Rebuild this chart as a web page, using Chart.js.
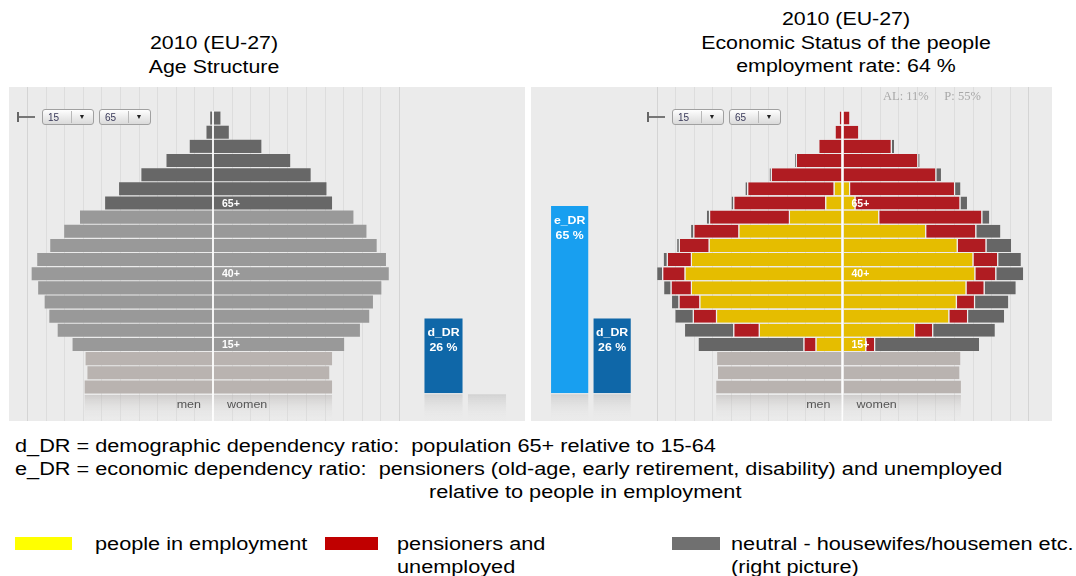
<!DOCTYPE html>
<html><head><meta charset="utf-8">
<script src="https://cdn.jsdelivr.net/npm/chart.js@4.4.1/dist/chart.umd.min.js"></script>
<style>
html,body{margin:0;padding:0;background:#fff}
body{width:1076px;height:576px;position:relative;overflow:hidden;font-family:"Liberation Sans",Arial,sans-serif;color:#000}
canvas{position:absolute}
.panel{position:absolute;background:#ebebeb}
.tx{position:absolute;white-space:nowrap;font-size:17.5px;line-height:23px;transform:scaleX(1.24);transform-origin:0 50%}
.ttl{position:absolute;text-align:center;font-size:17.5px;line-height:23.5px;white-space:nowrap;transform:scaleX(1.22);transform-origin:50% 50%}
.dd{position:absolute;width:50px;height:14px;border:1px solid #a0a0a0;border-radius:3px;background:linear-gradient(#fefefe,#dadada);font-size:10px;line-height:14px;color:#3a3a5a}
.dd .v{position:absolute;left:5px;top:1px}
.dd .sep{position:absolute;left:28px;top:1px;width:1px;height:12px;background:#b8b8b8}
.dd .ar{position:absolute;left:33px;top:0;font-size:7px;width:12px;text-align:center;color:#222}
.ico{position:absolute;width:18px;height:10px}
.ico .a{position:absolute;left:0;top:0;width:2px;height:10px;background:#666}
.ico .b{position:absolute;left:2px;top:4px;width:16px;height:1.5px;background:#777}
.sw{position:absolute;height:13px}
</style>
</head><body>

<div class="panel" style="left:9px;top:87px;width:516px;height:334px"></div>
<div class="panel" style="left:531px;top:87px;width:521px;height:334px"></div>

<div class="ttl" style="left:14px;top:32px;width:400px">2010 (EU-27)<br>Age Structure</div>
<div class="ttl" style="left:596px;top:8px;width:500px">2010 (EU-27)<br>Economic Status of the people<br>employment rate: 64 %</div>

<canvas id="leftPyr" width="516" height="334" style="left:9px;top:87px"></canvas>
<canvas id="leftDR" width="110" height="334" style="left:410px;top:87px"></canvas>
<canvas id="rightPyr" width="521" height="334" style="left:531px;top:87px"></canvas>
<canvas id="rightDR" width="120" height="334" style="left:531px;top:87px"></canvas>

<div class="ico" style="left:17px;top:112px"><div class="a"></div><div class="b"></div></div>
<div class="dd" style="left:42px;top:109px"><span class="v">15</span><span class="sep"></span><span class="ar">&#9660;</span></div>
<div class="dd" style="left:99px;top:109px"><span class="v">65</span><span class="sep"></span><span class="ar">&#9660;</span></div>
<div class="ico" style="left:647px;top:112px"><div class="a"></div><div class="b"></div></div>
<div class="dd" style="left:672px;top:109px"><span class="v">15</span><span class="sep"></span><span class="ar">&#9660;</span></div>
<div class="dd" style="left:729px;top:109px"><span class="v">65</span><span class="sep"></span><span class="ar">&#9660;</span></div>
<div class="tx" style="left:883px;top:88px;font-family:'Liberation Serif',serif;font-size:12.5px;color:#a8a8a8;line-height:16px;transform:none">AL: 11%&nbsp;&nbsp;&nbsp;&nbsp;&nbsp;P: 55%</div>

<div class="tx" style="left:15px;top:435px">d_DR = demographic dependency ratio:&nbsp; population 65+ relative to 15-64</div>
<div class="tx" style="left:15px;top:458px">e_DR = economic dependency ratio:&nbsp; pensioners (old-age, early retirement, disability) and unemployed</div>
<div class="tx" style="left:429px;top:481px">relative to people in employment</div>

<div class="sw" style="left:15px;top:537px;width:57px;background:#ffff00"></div>
<div class="tx" style="left:95px;top:533px">people in employment</div>
<div class="sw" style="left:325px;top:537px;width:53px;background:#c00000"></div>
<div class="tx" style="left:397px;top:533px">pensioners and<br>unemployed</div>
<div class="sw" style="left:672px;top:537px;width:48px;background:#707070"></div>
<div class="tx" style="left:731px;top:533px">neutral - housewifes/housemen etc.<br>(right picture)</div>

<script>
// ---------- DATA (millions) ----------
const ageGroups = ['95+','90-94','85-89','80-84','75-79','70-74','65-69','60-64','55-59','50-54','45-49','40-44','35-39','30-34','25-29','20-24','15-19','10-14','5-9','0-4'];
const ageBand   = ['65+','65+','65+','65+','65+','65+','65+','15-64','15-64','15-64','15-64','15-64','15-64','15-64','15-64','15-64','15-64','0-14','0-14','0-14'];
const centerLabelGroups = ['65-69','40-44','15-19'];
const centerLabelTexts  = ['65+','40+','15+'];

// left picture: age structure
const menTotal   = [0.3,0.7,2.5,5.0,7.7,10.1,11.6,14.3,16.0,17.5,18.9,19.5,18.8,18.1,17.6,16.7,15.1,13.7,13.5,13.8];
const womenTotal = [0.8,1.7,5.2,8.3,10.5,12.2,12.8,15.1,16.5,17.6,18.6,18.9,18.1,17.2,16.8,15.8,14.1,12.8,12.5,12.8];

// right picture: economic status
const menEmployed     = [null,null,null,null,null,0.85,1.75,5.65,11.1,14.3,16.2,16.9,16.2,15.3,13.5,8.9,2.8,null,null,null];
const menPensUnemp    = [0.3,0.75,2.5,4.9,7.6,9.3,9.9,8.6,4.85,3.2,2.6,2.4,2.2,2.25,2.5,2.75,1.3,null,null,null];
const menNeutral      = [null,null,null,0.2,0.25,0.3,0.3,0.35,0.35,0.3,0.45,0.65,0.8,0.8,2.0,5.3,11.4,null,null,null];
const menChildren     = [null,null,null,null,null,null,null,null,null,null,null,null,null,null,null,null,null,13.5,13.4,13.6];
const womenEmployed   = [null,null,null,null,null,0.7,1.3,3.85,8.9,12.3,14.0,14.2,13.25,12.2,11.4,7.7,2.45,null,null,null];
const womenPensUnemp  = [0.75,1.7,5.2,8.05,10.0,11.3,11.3,11.1,5.4,3.1,2.65,2.25,1.95,1.95,2.0,1.95,0.95,null,null,null];
const womenNeutral    = [null,null,0.35,0.25,0.6,0.7,0.8,0.85,2.7,2.75,2.55,3.0,3.45,3.7,4.0,6.75,11.3,null,null,null];
const womenChildren   = [null,null,null,null,null,null,null,null,null,null,null,null,null,null,null,null,null,12.7,12.6,12.75];

// dependency ratio bars (%)
const leftDRLabels  = ['d_DR','e_DR'];
const leftDRValues  = [26, null];
const rightDRLabels = ['e_DR','d_DR'];
const rightDRValues = [65, 26];

// ---------- STYLE ----------
const bandColor = {'65+':'#676767','15-64':'#999999','0-14':'#b9b3b0'};
const C = {employed:'#e5bd00', pens:'#b01c22', neutral:'#666666', child:'#b9b3b0'};
const drColor = {'d_DR':'#0f67a8','e_DR':'#189ff0'};
const AX = {min:-20, max:20, step:2};
const PYR_BAR = 0.92;
const DR_BAR = 0.875;
const FONT = '"Liberation Sans", Arial, sans-serif';

const neg = a => a.map(v => v == null ? null : -v);

function stretchText(ctx, text, x, y, align, sx) {
  ctx.save();
  ctx.translate(x, y);
  ctx.scale(sx, 1);
  ctx.textAlign = align;
  ctx.fillText(text, 0, 0);
  ctx.restore();
}

const pyramidPlugin = {
  id: 'pyramid',
  beforeDatasetsDraw(chart) {
    const ctx = chart.ctx, xs = chart.scales.x;
    ctx.save();
    ctx.lineWidth = 1;
    for (let v = AX.min; v <= AX.max + 1e-9; v += AX.step) {
      const px = Math.round(xs.getPixelForValue(v)) + 0.5;
      ctx.strokeStyle = (v === AX.min || v === AX.max) ? '#d4d4d4' : '#dddddd';
      ctx.beginPath(); ctx.moveTo(px, 0); ctx.lineTo(px, chart.height); ctx.stroke();
    }
    ctx.restore();
  },
  afterDatasetsDraw(chart) {
    const ctx = chart.ctx, xs = chart.scales.x, ys = chart.scales.y, ca = chart.chartArea;
    const last = ageGroups.length - 1;
    let lo = Infinity, hi = -Infinity;
    chart.data.datasets.forEach((d, i) => {
      const v = d.data[last];
      if (v == null) return;
      const el = chart.getDatasetMeta(i).data[last];
      lo = Math.min(lo, el.x, el.base); hi = Math.max(hi, el.x, el.base);
    });
    ctx.save();
    const g = ctx.createLinearGradient(0, ca.bottom, 0, chart.height);
    g.addColorStop(0, 'rgba(180,176,174,0.55)');
    g.addColorStop(1, 'rgba(235,235,235,0)');
    ctx.fillStyle = g;
    ctx.fillRect(lo, ca.bottom + 1, hi - lo, chart.height - ca.bottom - 1);
    const x0 = xs.getPixelForValue(0);
    ctx.strokeStyle = 'rgba(255,255,255,0.9)';
    ctx.lineWidth = 2;
    ctx.beginPath(); ctx.moveTo(x0, ca.top); ctx.lineTo(x0, chart.height); ctx.stroke();
    ctx.fillStyle = '#ffffff';
    ctx.font = 'bold 10px ' + FONT;
    ctx.textBaseline = 'middle';
    centerLabelGroups.forEach((grp, k) => {
      const y = ys.getPixelForValue(ageGroups.indexOf(grp));
      stretchText(ctx, centerLabelTexts[k], x0 + 9, y + 1, 'left', 1.05);
    });
    ctx.fillStyle = '#555555';
    ctx.font = '10px ' + FONT;
    stretchText(ctx, 'men', x0 - 12, chart.height - 16, 'right', 1.25);
    stretchText(ctx, 'women', x0 + 14, chart.height - 16, 'left', 1.25);
    ctx.restore();
  }
};

const drPlugin = {
  id: 'dr',
  beforeDatasetsDraw(chart) {
    const ctx = chart.ctx, xs = chart.scales.x, ys = chart.scales.y;
    const n = chart.data.labels.length;
    const w = xs.width / n * DR_BAR;
    const b = ys.getPixelForValue(0);
    ctx.save();
    for (let i = 0; i < n; i++) {
      const cx = xs.getPixelForValue(i);
      const g = ctx.createLinearGradient(0, b, 0, chart.height);
      g.addColorStop(0, 'rgba(190,190,190,0.6)');
      g.addColorStop(1, 'rgba(235,235,235,0)');
      ctx.fillStyle = g;
      ctx.fillRect(cx - w / 2, b + 1, w, chart.height - b - 1);
    }
    ctx.restore();
  },
  afterDatasetsDraw(chart) {
    const ctx = chart.ctx, meta = chart.getDatasetMeta(0);
    const ds = chart.data.datasets[0];
    ctx.save();
    ctx.fillStyle = '#ffffff';
    ctx.font = 'bold 11px ' + FONT;
    ctx.textBaseline = 'middle';
    meta.data.forEach((el, i) => {
      const v = ds.data[i];
      if (v == null) return;
      stretchText(ctx, chart.data.labels[i], el.x, el.y + 15, 'center', 1.12);
      stretchText(ctx, v + ' %', el.x, el.y + 30, 'center', 1.12);
    });
    ctx.restore();
  }
};

const baseOpts = (pad) => ({
  responsive: false, animation: false, devicePixelRatio: 1,
  indexAxis: 'y',
  layout: { padding: pad },
  plugins: { legend: { display: false }, tooltip: { enabled: false }, title: { display: false } },
  scales: {
    x: { type: 'linear', min: AX.min, max: AX.max, stacked: true, display: false },
    y: { type: 'category', stacked: true, display: false }
  }
});

new Chart(document.getElementById('leftPyr'), {
  type: 'bar',
  data: {
    labels: ageGroups,
    datasets: [
      { label: 'men', data: neg(menTotal), backgroundColor: ageBand.map(b => bandColor[b]) },
      { label: 'women', data: womenTotal, backgroundColor: ageBand.map(b => bandColor[b]) }
    ].map(d => Object.assign(d, { barPercentage: PYR_BAR, categoryPercentage: 1, borderWidth: 0 }))
  },
  options: baseOpts({ left: 18, right: 126, top: 24, bottom: 27 }),
  plugins: [pyramidPlugin]
});

const segStyle = { barPercentage: PYR_BAR, categoryPercentage: 1, borderColor: '#eeeeee',
  borderWidth: { left: 1.2, right: 1.2, top: 0, bottom: 0 }, borderSkipped: 'end' };
new Chart(document.getElementById('rightPyr'), {
  type: 'bar',
  data: {
    labels: ageGroups,
    datasets: [
      { label: 'men employed', data: neg(menEmployed), backgroundColor: C.employed },
      { label: 'men pensioners/unemployed', data: neg(menPensUnemp), backgroundColor: C.pens },
      { label: 'men neutral', data: neg(menNeutral), backgroundColor: C.neutral },
      { label: 'men children', data: neg(menChildren), backgroundColor: C.child },
      { label: 'women employed', data: womenEmployed, backgroundColor: C.employed },
      { label: 'women pensioners/unemployed', data: womenPensUnemp, backgroundColor: C.pens },
      { label: 'women neutral', data: womenNeutral, backgroundColor: C.neutral },
      { label: 'women children', data: womenChildren, backgroundColor: C.child }
    ].map(d => Object.assign(d, segStyle))
  },
  options: baseOpts({ left: 125.7, right: 23.7, top: 24, bottom: 27 }),
  plugins: [pyramidPlugin]
});

const drChart = (id, labels, values, pad) => new Chart(document.getElementById(id), {
  type: 'bar',
  data: { labels, datasets: [{ data: values, backgroundColor: labels.map(l => drColor[l]),
    barPercentage: DR_BAR, categoryPercentage: 1, borderWidth: 0 }] },
  options: {
    responsive: false, animation: false, devicePixelRatio: 1,
    layout: { padding: pad },
    plugins: { legend: { display: false }, tooltip: { enabled: false } },
    scales: { x: { type: 'category', display: false }, y: { min: 0, max: 100, display: false } }
  },
  plugins: [drPlugin]
});
drChart('leftDR', leftDRLabels, leftDRValues, { left: 11.75, right: 11.25, top: 18.3, bottom: 27.7 });
drChart('rightDR', rightDRLabels, rightDRValues, { left: 17.4, right: 17.6, top: 18.3, bottom: 27.7 });
</script>
</body></html>
